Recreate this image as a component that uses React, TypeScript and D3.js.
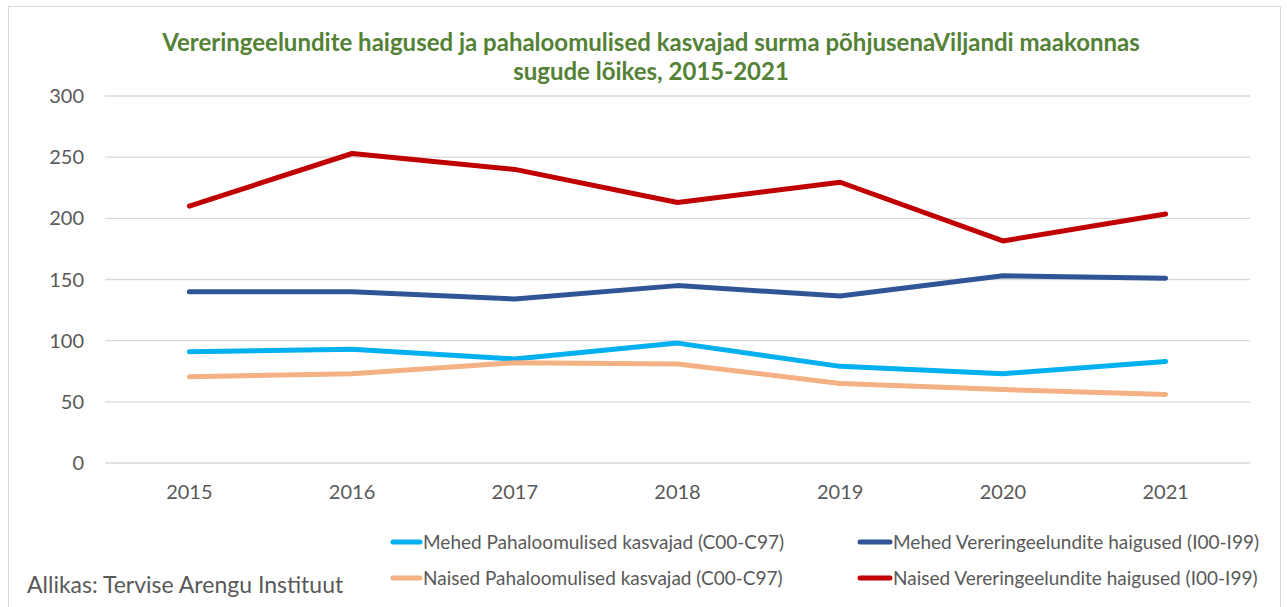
import React, { useEffect } from "react";
import * as d3 from "d3";

const years = ["2015", "2016", "2017", "2018", "2019", "2020", "2021"];
const mehedPahaloomulised = [91, 93, 85, 98, 79, 73, 83];
const mehedVereringe = [140, 140, 134, 145, 136.5, 153, 151];
const naisedPahaloomulised = [70.5, 73, 82, 81, 65, 60, 56];
const naisedVereringe = [210, 253, 240, 213, 229.5, 181.5, 203.5];
const yTicks = [0, 50, 100, 150, 200, 250, 300];

const series = [
  { name: "Mehed Pahaloomulised kasvajad (C00-C97)", values: mehedPahaloomulised, color: "#00b0f0" },
  { name: "Mehed Vereringeelundite haigused (I00-I99)", values: mehedVereringe, color: "#2f5597" },
  { name: "Naised Pahaloomulised kasvajad (C00-C97)", values: naisedPahaloomulised, color: "#f4b183" },
  { name: "Naised Vereringeelundite haigused (I00-I99)", values: naisedVereringe, color: "#c00000" },
];

const width = 1287;
const height = 607;
const margin = { top: 96, right: 37, bottom: 144, left: 105 };
const font = "Lato, 'Open Sans', sans-serif";

const App: React.FC = () => {
  useEffect(() => {
    document.body.style.margin = "0";
  }, []);

  const x = d3
    .scalePoint<string>()
    .domain(years)
    .range([margin.left + 3, width - margin.right - 3])
    .padding(0.5);

  const y = d3
    .scaleLinear()
    .domain([0, 300])
    .range([height - margin.bottom, margin.top]);

  const line = d3
    .line<number>()
    .x((_, i) => x(years[i]) as number)
    .y((d) => y(d));

  // legend placement: two columns, two rows
  const legendCols = [{ x: 393, w: 27 }, { x: 860, w: 30 }];
  const legendRows = [542, 578];

  return (
    <svg width={width} height={height} style={{ display: "block", fontFamily: font }}>
      <rect x={0} y={0} width={width} height={height} fill="#fff" />
      <rect x={8.5} y={6.5} width={1272} height={640} fill="none" stroke="#d9d9d9" />

      <text x={651} y={51} textAnchor="middle" fill="#538135" fontWeight="bold" fontSize={24}>
        Vereringeelundite haigused ja pahaloomulised kasvajad surma põhjusenaViljandi maakonnas
      </text>
      <text x={651} y={80} textAnchor="middle" fill="#538135" fontWeight="bold" fontSize={24}>
        sugude lõikes, 2015-2021
      </text>

      {yTicks.map((t) => (
        <g key={t}>
          <line
            x1={margin.left}
            x2={width - margin.right}
            y1={y(t)}
            y2={y(t)}
            stroke="#d9d9d9"
            strokeWidth={1.3}
          />
          <text x={84} y={y(t)} dy="0.35em" textAnchor="end" fill="#595959" fontSize={20}>
            {t}
          </text>
        </g>
      ))}

      {years.map((yr) => (
        <text key={yr} x={x(yr)} y={499} textAnchor="middle" fill="#595959" fontSize={20}>
          {yr}
        </text>
      ))}

      {series.map((s) => (
        <path
          key={s.name}
          d={line(s.values) as string}
          fill="none"
          stroke={s.color}
          strokeWidth={5}
          strokeLinejoin="round"
          strokeLinecap="round"
        />
      ))}

      {series.map((s, i) => {
        const col = legendCols[i % 2];
        const ly = legendRows[Math.floor(i / 2)];
        return (
          <g key={s.name + "-legend"}>
            <line x1={col.x} x2={col.x + col.w} y1={ly} y2={ly} stroke={s.color} strokeWidth={5} strokeLinecap="round" />
            <text x={col.x + col.w + 3} y={ly} dy="0.35em" fill="#595959" fontSize={19}>
              {s.name}
            </text>
          </g>
        );
      })}

      <text x={27} y={593} fill="#595959" fontSize={23}>
        Allikas: Tervise Arengu Instituut
      </text>
    </svg>
  );
};

export default App;
